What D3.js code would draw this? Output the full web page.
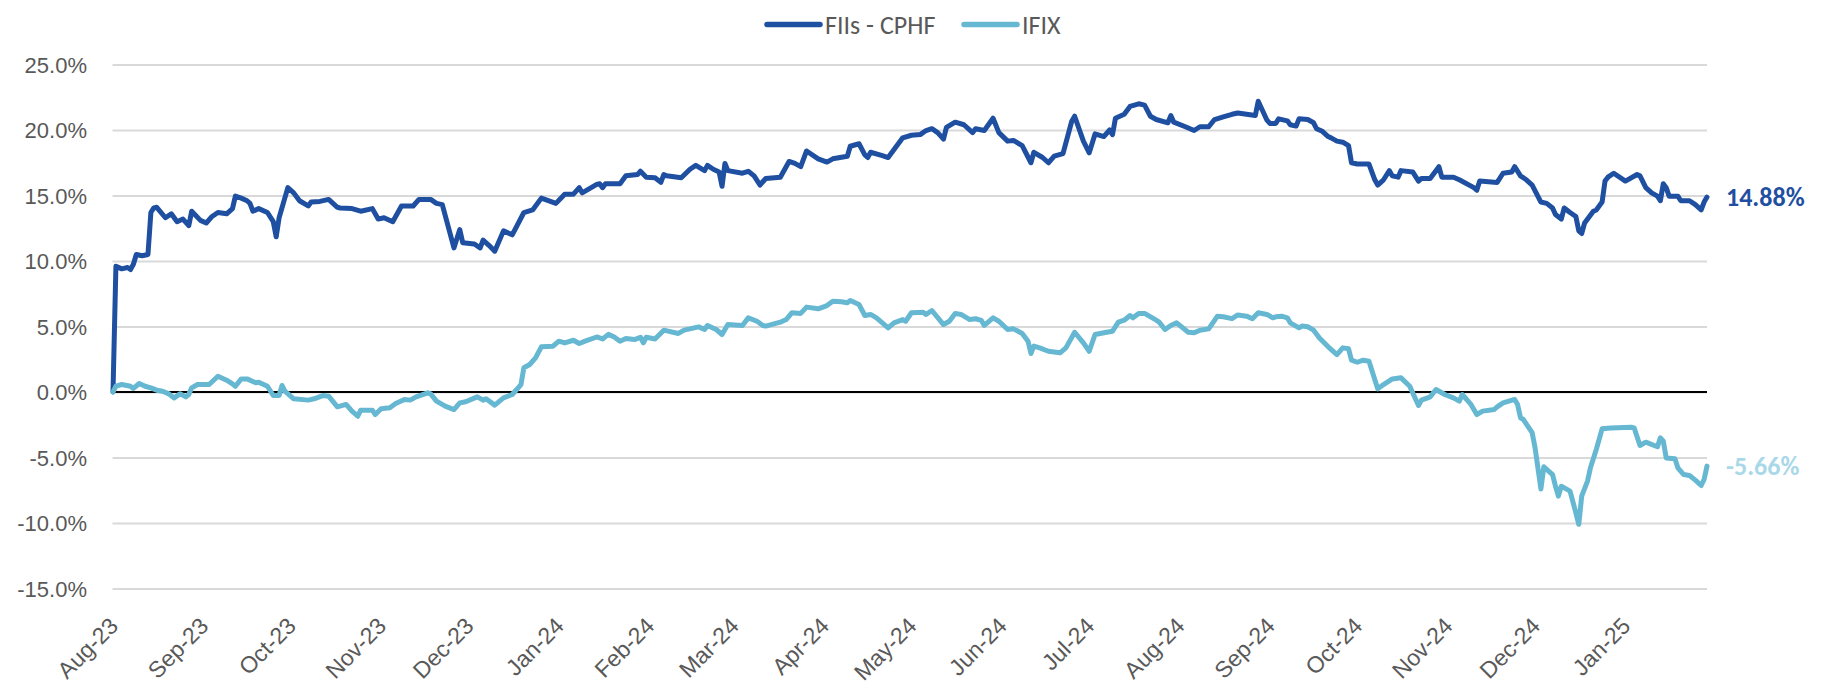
<!DOCTYPE html>
<html>
<head>
<meta charset="utf-8">
<title>FIIs - CPHF x IFIX</title>
<script src="https://d3js.org/d3.v7.min.js"></script>
<style>
	body { margin:0; background:#ffffff; }
	svg { display:block; font-family: Carlito, Calibri, Lato, sans-serif; }
	.grid line { stroke:#d9d9d9; stroke-width:2; }
	.grid path { display:none; }
	.axis path { display:none; }
	.axis text { fill:#595959; font-size:22px; }
	.xaxis text { font-size:23px; }
	.serie { fill:none; stroke-width:5; stroke-linejoin:round; stroke-linecap:round; }
	.legend text { fill:#595959; font-size:26px; }
</style>
</head>
<body>
<div id="chart"></div>
<script>
// series names and colours
var seriesNames = ["FIIs - CPHF", "IFIX"];
var seriesColors = ["#1f4fa0", "#66b8d2"];
var endLabelColors = ["#1f4fa0", "#a9d8e8"];

// first day of the series, points are [days after start, return in %]
var startDate = "2023-08-01";
var lastDay = 547;

var cphf = [
	[0,0],[1,9.6],[3,9.4],[5,9.5],[6,9.35],[7,9.75],[8,10.5],[10,10.4],[12,10.5],[13,13.7],
	[14,14.05],[15,14.1],[18,13.3],[20,13.6],[22,13.0],[24,13.2],[26,12.7],[27,13.8],[30,13.1],[32,12.9],
	[34,13.4],[36,13.7],[39,13.6],[41,14.0],[42,14.95],[44,14.8],[46,14.6],[47,14.4],[48,13.8],[50,14.0],
	[53,13.7],[55,13.0],[56,11.85],[57,13.3],[60,15.6],[62,15.2],[64,14.6],[67,14.2],[68,14.5],[71,14.55],
	[74,14.7],[77,14.1],[78,14.05],[82,14.0],[85,13.8],[89,14.0],[91,13.2],[93,13.3],[96,13.0],[99,14.2],
	[103,14.2],[105,14.7],[109,14.7],[111,14.4],[113,14.3],[117,11.0],[119,12.4],[120,11.4],[124,11.3],[126,11.0],
	[127,11.6],[129,11.2],[131,10.75],[134,12.3],[137,12.0],[141,13.7],[144,13.9],[147,14.8],[152,14.4],[155,15.1],
	[158,15.1],[160,15.6],[161,15.2],[166,15.85],[167,15.9],[168,15.6],[169,15.9],[174,15.9],[176,16.5],[180,16.6],
	[181,16.85],[183,16.4],[186,16.35],[188,16.0],[189,16.6],[190,16.5],[195,16.35],[198,17.0],[200,17.3],[203,16.9],
	[204,17.3],[206,17.0],[208,16.8],[209,15.7],[210,17.45],[211,16.9],[216,16.7],[218,16.85],[220,16.5],[222,15.8],
	[224,16.3],[229,16.4],[232,17.6],[234,17.45],[236,17.2],[238,18.4],[242,17.8],[245,17.55],[247,17.8],[252,18.0],
	[253,18.76],[256,18.95],[258,18.1],[259,17.9],[260,18.3],[264,18.05],[266,17.9],[271,19.4],[274,19.6],[277,19.65],
	[279,19.96],[281,20.1],[283,19.8],[285,19.3],[286,20.2],[289,20.6],[292,20.4],[295,19.8],[296,20.1],[299,19.96],
	[302,20.9],[304,19.8],[307,19.15],[309,19.2],[312,18.8],[315,17.5],[316,18.3],[319,17.9],[321,17.5],[323,18.0],
	[326,18.2],[329,20.67],[330,21.05],[333,19.15],[335,18.26],[337,19.7],[340,19.5],[342,20.0],[343,19.65],[344,20.9],
	[347,21.2],[349,21.8],[352,22.0],[354,21.9],[356,21.05],[358,20.8],[362,20.55],[363,21.1],[364,20.6],[368,20.25],
	[371,19.96],[373,20.25],[376,20.25],[378,20.8],[381,21.0],[384,21.2],[386,21.3],[389,21.2],[392,21.1],[393,22.2],
	[396,20.75],[397,20.5],[399,20.5],[400,20.85],[403,20.7],[404,20.4],[406,20.3],[407,20.85],[410,20.8],[412,20.55],
	[413,20.1],[415,19.9],[417,19.5],[418,19.4],[420,19.15],[422,19.07],[424,18.8],[425,17.5],[427,17.4],[431,17.4],
	[433,16.2],[434,15.8],[436,16.2],[438,16.9],[439,16.5],[441,16.4],[442,16.9],[446,16.8],[448,16.1],[449,16.3],
	[452,16.3],[455,17.2],[456,16.4],[460,16.4],[462,16.2],[467,15.6],[468,15.4],[469,16.1],[475,16.0],[477,16.7],
	[480,16.8],[481,17.2],[483,16.5],[485,16.2],[487,15.8],[490,14.5],[492,14.4],[494,14.05],[495,13.55],[497,13.2],
	[498,14.05],[500,13.7],[502,13.4],[503,12.3],[504,12.1],[505,12.9],[508,13.8],[509,13.9],[511,14.5],[512,16.1],
	[513,16.4],[515,16.7],[519,16.1],[523,16.6],[524,16.5],[526,15.6],[528,15.2],[530,14.95],[531,14.6],[532,15.9],
	[533,15.6],[534,14.95],[537,14.95],[538,14.6],[541,14.6],[543,14.3],[545,13.9],[546,14.5],[547,14.88]
];

var ifix = [
	[0,0],[1,0.45],[3,0.57],[6,0.44],[7,0.27],[9,0.65],[11,0.44],[13,0.32],[15,0.14],[17,0.06],
	[19,-0.12],[21,-0.45],[23,-0.14],[25,-0.37],[26,-0.19],[27,0.32],[29,0.57],[33,0.57],[36,1.2],[39,0.9],
	[41,0.62],[42,0.44],[44,1.0],[46,1.0],[49,0.7],[50,0.75],[53,0.44],[55,-0.27],[57,-0.27],[58,0.5],
	[59,0.06],[62,-0.52],[67,-0.62],[69,-0.52],[72,-0.27],[74,-0.32],[77,-1.13],[80,-0.95],[82,-1.46],[84,-1.85],
	[85,-1.39],[89,-1.39],[90,-1.72],[92,-1.28],[95,-1.2],[97,-0.88],[100,-0.57],[102,-0.62],[104,-0.37],[108,-0.06],
	[109,-0.14],[111,-0.7],[114,-1.08],[117,-1.34],[119,-0.83],[121,-0.75],[125,-0.37],[127,-0.62],[128,-0.52],[131,-1.0],
	[134,-0.45],[137,-0.19],[138,0.06],[140,0.57],[141,1.85],[143,2.1],[145,2.6],[147,3.45],[151,3.5],[153,3.88],
	[155,3.75],[158,3.95],[160,3.7],[162,3.88],[166,4.2],[168,4.05],[170,4.4],[172,4.2],[174,3.88],[176,4.08],
	[179,4.0],[181,4.18],[182,3.75],[183,4.18],[186,4.05],[189,4.72],[194,4.47],[196,4.72],[201,4.97],[203,4.77],
	[204,5.08],[207,4.77],[209,4.39],[211,5.15],[216,5.08],[218,5.66],[221,5.4],[223,5.08],[224,5.03],[229,5.33],
	[231,5.53],[233,6.05],[236,6.0],[238,6.48],[242,6.35],[245,6.6],[247,6.93],[250,6.89],[252,6.81],[253,6.98],
	[256,6.68],[258,5.84],[260,5.92],[262,5.66],[266,4.9],[268,5.28],[271,5.53],[272,5.4],[274,6.05],[278,6.09],
	[279,5.92],[281,6.22],[285,5.15],[287,5.4],[289,6.0],[291,5.92],[294,5.53],[296,5.59],[298,5.46],[299,5.08],
	[302,5.66],[304,5.4],[307,4.77],[309,4.82],[312,4.47],[314,3.88],[315,2.94],[316,3.5],[318,3.37],[321,3.11],
	[325,2.99],[327,3.37],[330,4.56],[333,3.75],[335,3.11],[337,4.39],[341,4.56],[343,4.64],[345,5.33],[347,5.48],
	[349,5.84],[350,5.66],[352,6.0],[354,6.0],[358,5.48],[359,5.33],[361,4.77],[363,5.08],[365,5.28],[369,4.56],
	[371,4.52],[373,4.72],[376,4.82],[379,5.79],[381,5.74],[384,5.6],[386,5.88],[389,5.79],[391,5.59],[393,6.05],
	[396,5.92],[398,5.66],[399,5.74],[401,5.79],[403,5.66],[404,5.28],[407,4.9],[408,5.03],[410,4.98],[412,4.72],
	[414,4.13],[417,3.45],[420,2.86],[422,3.37],[424,3.3],[425,2.43],[427,2.27],[429,2.43],[431,2.35],[434,0.24],
	[436,0.57],[439,1.0],[442,1.08],[445,0.44],[446,-0.06],[448,-1.03],[449,-0.62],[452,-0.37],[454,0.19],[457,-0.19],
	[460,-0.45],[462,-0.7],[463,-0.19],[466,-0.95],[468,-1.72],[470,-1.46],[474,-1.34],[475,-1.13],[477,-0.83],[481,-0.57],
	[482,-0.95],[483,-1.97],[484,-2.1],[487,-3.11],[488,-4.26],[490,-7.4],[491,-5.71],[494,-6.3],[495,-7.19],[496,-7.95],
	[497,-7.19],[500,-7.57],[502,-9.22],[503,-10.1],[504,-7.95],[506,-6.8],[507,-5.79],[509,-4.39],[511,-2.81],[514,-2.74],
	[521,-2.69],[522,-2.74],[524,-4.08],[526,-3.83],[530,-4.18],[531,-3.5],[532,-3.75],[533,-5.03],[536,-5.1],[537,-5.79],
	[539,-6.3],[541,-6.37],[543,-6.73],[545,-7.14],[546,-6.68],[547,-5.66]
];

// y axis ticks
var yTicks = [-15, -10, -5, 0, 5, 10, 15, 20, 25];

var width = 1831, height = 686;
var margin = {top: 64.5, left: 113, right: 124, bottom: 97.5};

var start = d3.utcParse("%Y-%m-%d")(startDate);
var toDate = function(d) { return d3.utcDay.offset(start, d); };

var x = d3.scaleUtc()
	.domain([start, toDate(lastDay)])
	.range([margin.left, width - margin.right]);

var y = d3.scaleLinear()
	.domain([yTicks[0], yTicks[yTicks.length - 1]])
	.range([height - margin.bottom, margin.top]);

var svg = d3.select("#chart").append("svg")
	.attr("width", width)
	.attr("height", height);

// gridlines
svg.append("g")
	.attr("class", "grid")
	.attr("transform", "translate(" + (margin.left - 0.5) + ",0)")
	.call(d3.axisLeft(y).tickValues(yTicks).tickSize(-(x.range()[1] - margin.left + 0.5)).tickFormat(""));

// zero line
svg.append("line")
	.attr("x1", x.range()[0])
	.attr("x2", x.range()[1])
	.attr("y1", y(0))
	.attr("y2", y(0))
	.attr("stroke", "#000000")
	.attr("stroke-width", 2);

// y axis labels
svg.append("g")
	.attr("class", "axis")
	.attr("transform", "translate(" + margin.left + ",0)")
	.call(d3.axisLeft(y).tickValues(yTicks).tickSize(0).tickPadding(26)
		.tickFormat(function(d) { return d.toFixed(1) + "%"; }))
	.selectAll("text")
		.attr("dy", "0.35em");

// x axis labels, one per month, rotated
var months = d3.utcMonth.range(start, toDate(lastDay));
var xAxis = svg.append("g")
	.attr("class", "axis xaxis")
	.attr("transform", "translate(0," + (height - margin.bottom) + ")")
	.call(d3.axisBottom(x).tickValues(months).tickSize(0).tickFormat(d3.utcFormat("%b-%y")));

xAxis.selectAll("text")
	.attr("text-anchor", "end")
	.attr("dy", null)
	.attr("y", 0)
	.attr("transform", function() { return "translate(6,39) rotate(-45)"; });

// lines
var line = d3.line()
	.x(function(d) { return x(toDate(d[0])); })
	.y(function(d) { return y(d[1]); });

var allSeries = [cphf, ifix];

svg.selectAll(".serie")
	.data(allSeries)
	.enter()
	.append("path")
	.attr("class", "serie")
	.attr("stroke", function(d, i) { return seriesColors[i]; })
	.attr("d", line);

// last value labels
svg.selectAll(".endLabel")
	.data(allSeries)
	.enter()
	.append("text")
	.attr("class", "endLabel")
	.attr("x", function(d) { return x(toDate(d[d.length - 1][0])) + 19; })
	.attr("y", function(d) { return y(d[d.length - 1][1]); })
	.attr("dy", "0.35em")
	.attr("fill", function(d, i) { return endLabelColors[i]; })
	.attr("font-size", "26px")
	.attr("font-weight", "bold")
	.text(function(d) { return d[d.length - 1][1].toFixed(2) + "%"; });

// legend
var legendX = [767, 964];
var legend = svg.append("g").attr("class", "legend");
var items = legend.selectAll("g")
	.data(seriesNames)
	.enter()
	.append("g")
	.attr("transform", function(d, i) { return "translate(" + legendX[i] + ",24.5)"; });

items.append("line")
	.attr("x1", 0)
	.attr("x2", 53)
	.attr("stroke", function(d, i) { return seriesColors[i]; })
	.attr("stroke-width", 5.5)
	.attr("stroke-linecap", "round");

items.append("text")
	.attr("x", 58)
	.attr("dy", "0.35em")
	.text(function(d) { return d; });
</script>
</body>
</html>
